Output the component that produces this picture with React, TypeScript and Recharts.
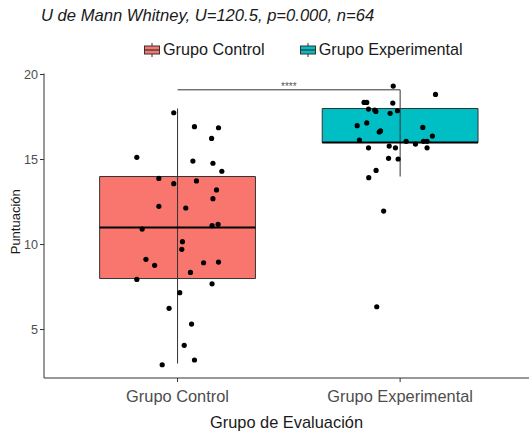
import {
  ComposedChart,
  Scatter,
  XAxis,
  YAxis,
  ReferenceArea,
  ReferenceLine,
} from 'recharts';

const groups = ['Grupo Control', 'Grupo Experimental'];
const groupColors = ['#F8766D', '#00BFC4'];

// box statistics per group
const q1 = [8, 16];
const medians = [11, 16];
const q3 = [14, 18];
const whiskerLow = [3, 14];
const whiskerHigh = [18, 19.1];

// jittered points, control group
const controlX = [
  0.983, 1.076, 1.184, 1.153, 0.817, 1.069, 1.159, 1.199, 0.916, 0.983, 1.085,
  1.175, 1.159, 0.916, 1.037, 1.155, 1.182, 0.841, 1.022, 1.019, 0.858, 0.897,
  1.117, 1.184, 1.058, 0.817, 1.155, 1.01, 0.962, 1.063, 1.03, 1.076, 0.931,
];
const controlY = [
  17.75, 16.93, 16.87, 16.24, 15.13, 14.91, 14.78, 14.31, 13.89, 13.58, 13.74,
  13.21, 12.7, 12.25, 12.15, 11.11, 11.19, 10.91, 10.17, 9.72, 9.13, 8.78,
  8.93, 8.97, 8.36, 7.95, 7.69, 7.17, 6.25, 5.32, 4.07, 3.21, 2.93,
];

// jittered points, experimental group
const experimentalX = [
  1.969, 2.159, 1.838, 1.85, 1.967, 1.858, 1.886, 1.891, 1.988, 1.955, 1.85,
  1.807, 2.102, 1.912, 1.906, 2.145, 1.817, 2.027, 2.069, 2.105, 2.121, 1.858,
  1.951, 1.979, 2.121, 1.948, 1.991, 1.892, 1.859, 1.926, 1.895,
];
const experimentalY = [
  19.32, 18.83, 18.36, 18.36, 18.32, 17.97, 17.91, 17.83, 17.87, 17.72, 17.15,
  16.99, 16.89, 16.68, 16.62, 16.38, 16.15, 16.07, 15.91, 16.07, 16.07, 15.69,
  15.79, 15.69, 15.69, 15.07, 15.03, 14.36, 13.93, 11.97, 6.34,
];

const yTicks = [5, 10, 15, 20];
const BOX_HALF = 0.35;

const controlData = controlX.map((x, i) => ({ x, y: controlY[i] }));
const experimentalData = experimentalX.map((x, i) => ({ x, y: experimentalY[i] }));

const Dot = (props: any) => <circle cx={props.cx} cy={props.cy} r={2.6} fill="#000" />;

function BoxKey({ color }: { color: string }) {
  return (
    <svg width={16} height={14} style={{ display: 'block' }}>
      <line x1={8} y1={0} x2={8} y2={14} stroke="#333" strokeWidth={1} />
      <rect x={0.5} y={3} width={15} height={8} fill={color} stroke="#333" strokeWidth={1} />
      <line x1={0.5} y1={7} x2={15.5} y2={7} stroke="#333" strokeWidth={1.2} />
    </svg>
  );
}

export default function App() {
  const font = 'Liberation Sans, Arial, sans-serif';
  return (
    <div style={{ position: 'absolute', left: 0, top: 0, width: 529, height: 432, background: '#fff' }}>
      <div
        style={{
          position: 'absolute',
          left: 41,
          top: 6,
          fontFamily: font,
          fontStyle: 'italic',
          fontSize: 16.6,
          color: '#1a1a1a',
          whiteSpace: 'nowrap',
        }}
      >
        U de Mann Whitney, U=120.5, p=0.000, n=64
      </div>
      <div
        style={{
          position: 'absolute',
          left: 144,
          top: 40,
          display: 'flex',
          fontFamily: font,
          fontSize: 16.2,
          color: '#1a1a1a',
          whiteSpace: 'nowrap',
          zIndex: 2,
        }}
      >
        {groups.map((g, i) => (
          <div key={g} style={{ display: 'flex', alignItems: 'center', marginRight: i === 0 ? 35 : 0 }}>
            <BoxKey color={groupColors[i]} />
            <span style={{ marginLeft: 3 }}>{g}</span>
          </div>
        ))}
      </div>
      <ComposedChart
        width={529}
        height={432}
        margin={{ top: 73.5, right: 0, bottom: 0, left: 0 }}
        style={{ fontFamily: font }}
      >
        <XAxis
          type="number"
          dataKey="x"
          domain={[0.4, 2.579]}
          allowDataOverflow
          ticks={[1, 2]}
          interval={0}
          tickFormatter={(v: number) => groups[Math.round(v) - 1]}
          tick={{ fontSize: 16.4, fill: '#4d4d4d' }}
          tickSize={4}
          tickMargin={8}
          stroke="#333"
          height={54}
          label={{ value: 'Grupo de Evaluación', position: 'insideBottom', offset: 4, fontSize: 16.4, fill: '#1a1a1a' }}
        />
        <YAxis
          type="number"
          dataKey="y"
          domain={[2.15, 20.06]}
          allowDataOverflow
          ticks={yTicks}
          interval={0}
          tick={{ fontSize: 12.6, fill: '#4d4d4d' }}
          tickSize={4}
          tickMargin={2}
          stroke="#333"
          width={44}
          label={(p: any) => {
            const vb = p.viewBox;
            const cy = vb.y + vb.height / 2 - 4;
            return (
              <text x={20} y={cy} transform={`rotate(-90 20 ${cy})`} textAnchor="middle" fontSize={13} fill="#1a1a1a">
                Puntuación
              </text>
            );
          }}
        />
        {groups.map((g, i) => (
          <ReferenceLine
            key={g + '-wh'}
            segment={[
              { x: i + 1, y: whiskerLow[i] },
              { x: i + 1, y: whiskerHigh[i] },
            ]}
            stroke="#333"
            strokeWidth={1}
          />
        ))}
        {groups.map((g, i) => (
          <ReferenceArea
            key={g + '-box'}
            x1={i + 1 - BOX_HALF}
            x2={i + 1 + BOX_HALF}
            y1={q1[i]}
            y2={q3[i]}
            fill={groupColors[i]}
            fillOpacity={1}
            stroke="#333"
            strokeWidth={1}
          />
        ))}
        {groups.map((g, i) => (
          <ReferenceLine
            key={g + '-med'}
            segment={[
              { x: i + 1 - BOX_HALF, y: medians[i] },
              { x: i + 1 + BOX_HALF, y: medians[i] },
            ]}
            stroke="#000"
            strokeWidth={2}
          />
        ))}
        <ReferenceLine
          segment={[
            { x: 1, y: whiskerHigh[1] },
            { x: 2, y: whiskerHigh[1] },
          ]}
          stroke="#333"
          strokeWidth={1}
          label={{ value: '****', position: 'top', fontSize: 10, fill: '#555', offset: 0 }}
        />
        <Scatter name="Grupo Control" data={controlData} shape={Dot} isAnimationActive={false} legendType="none" />
        <Scatter name="Grupo Experimental" data={experimentalData} shape={Dot} isAnimationActive={false} legendType="none" />
      </ComposedChart>
    </div>
  );
}
